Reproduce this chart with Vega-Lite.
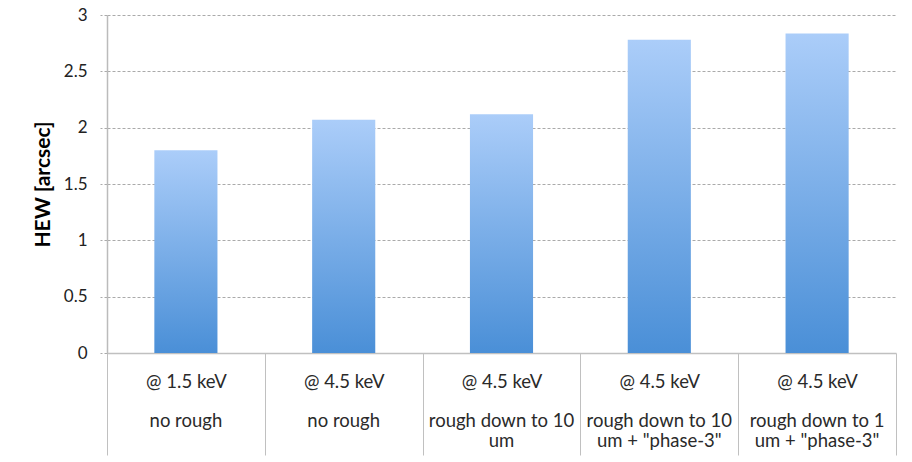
{
  "$schema": "https://vega.github.io/schema/vega-lite/v6.json",
  "autosize": "none",
  "width": 789,
  "height": 338,
  "padding": {"left": 107, "top": 15, "right": 16, "bottom": 109},
  "background": "white",
  "config": {"view": {"stroke": null}, "font": "Lato"},
  "data": {"values": [
    {"cat": "c1", "energy": "@ 1.5 keV", "hew": 1.80},
    {"cat": "c2", "energy": "@ 4.5 keV", "hew": 2.07},
    {"cat": "c3", "energy": "@ 4.5 keV", "hew": 2.12},
    {"cat": "c4", "energy": "@ 4.5 keV", "hew": 2.78},
    {"cat": "c5", "energy": "@ 4.5 keV", "hew": 2.835}
  ]},
  "encoding": {
    "y": {
      "field": "hew", "type": "quantitative",
      "scale": {"domain": [0, 3], "nice": false},
      "axis": {
        "title": "HEW [arcsec]",
        "titleFontSize": 21,
        "titleFontWeight": "bold",
        "titleColor": "#000000",
        "titlePadding": 10,
        "values": [0, 0.5, 1, 1.5, 2, 2.5, 3],
        "format": "~g",
        "labelFontSize": 17,
        "labelColor": "#222222",
        "labelPadding": 13,
        "tickSize": 7,
        "tickColor": "#aaaaaa",
        "tickDash": [3, 2],
        "domainColor": "#bbbbbb",
        "domainWidth": 1.5,
        "gridColor": "#aaaaaa",
        "gridDash": [3, 2],
        "gridOpacity": 1
      }
    }
  },
  "layer": [
    {
      "mark": {
        "type": "bar",
        "width": {"band": 0.4},
        "color": {"gradient": "linear", "x1": 0, "y1": 0, "x2": 0, "y2": 1,
          "stops": [{"offset": 0, "color": "#abcdf9"}, {"offset": 1, "color": "#4a8fd7"}]}
      },
      "encoding": {
        "x": {
          "field": "cat", "type": "nominal", "sort": null,
          "scale": {"paddingInner": 0, "paddingOuter": 0},
          "axis": {
            "title": null,
            "orient": "bottom",
            "labelAngle": 0,
            "labelExpr": "datum.value == 'c1' ? '@ 1.5 keV' : datum.value == 'c2' || datum.value == 'c3' || datum.value == 'c4' || datum.value == 'c5' ? '@ 4.5 keV' : ''",
            "labelFontSize": 18.5,
            "labelColor": "#2a2a2a",
            "labelBaseline": "middle",
            "labelPadding": -74,
            "labelLimit": 200,
            "tickBand": "extent",
            "tickSize": 102,
            "tickColor": "#c0c0c0",
            "domainColor": "#c0c0c0",
            "domainWidth": 1.5
          }
        }
      }
    },
    {
      "mark": {"type": "bar", "width": {"band": 0.4}, "opacity": 0},
      "encoding": {
        "x": {
          "field": "cat", "type": "nominal", "sort": null,
          "scale": {"paddingInner": 0, "paddingOuter": 0},
          "axis": {
            "title": null,
            "orient": "bottom",
            "labelAngle": 0,
            "labelExpr": "datum.value == 'c1' || datum.value == 'c2' ? 'no rough' : datum.value == 'c3' ? ['rough down to 10', 'um'] : datum.value == 'c4' ? ['rough down to 10', 'um + \"phase-3\"'] : datum.value == 'c5' ? ['rough down to 1', 'um + \"phase-3\"'] : ''",
            "labelFontSize": 18.5,
            "labelColor": "#2a2a2a",
            "labelLineHeight": 20.5,
            "labelBaseline": "middle",
            "labelPadding": 67,
            "labelLimit": 200,
            "ticks": false,
            "domain": false,
            "grid": false
          }
        }
      }
    }
  ],
  "resolve": {"scale": {"x": "independent"}}
}
